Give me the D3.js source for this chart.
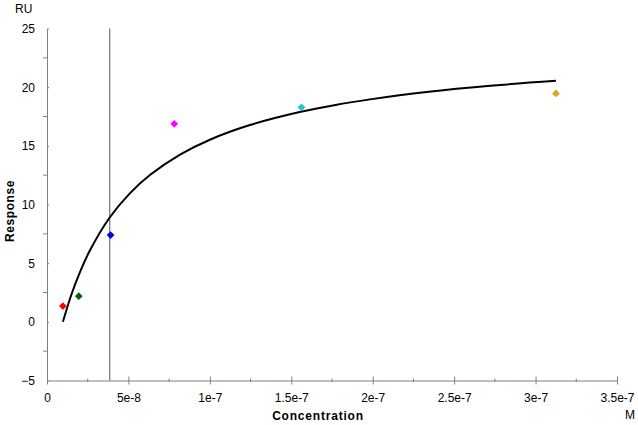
<!DOCTYPE html>
<meta charset="utf-8">
<html>
    <head>
        <script src="https://d3js.org/d3.v7.min.js"></script>
    </head>
    <style>
        body { margin: 0; background: #fff; }
        text { font-family: "Liberation Sans", Arial, sans-serif; }
    </style>
    <body>
        <div id="chart"></div>
        <script>

            // measured points (concentration in M, response in RU)
            var concentrations = [9.77e-9, 1.953e-8, 3.906e-8, 7.813e-8, 1.5625e-7, 3.125e-7];
            var responses = [1.34, 2.19, 7.39, 16.88, 18.28, 19.47];
            var pointColors = ["#ff0000", "#006400", "#0000ff", "#ff00ff", "#1fc8c8", "#daa520"];

            // fitted curve
            var fitConc = [9.77e-9, 1.5e-8, 2.03e-8, 2.64e-8, 3.85e-8, 5.1e-8, 6.32e-8, 8.17e-8, 1.0e-7,
                           1.246e-7, 1.558e-7, 1.779e-7, 1.983e-7, 2.331e-7, 2.74e-7, 3.125e-7];
            var fitResp = [0.0, 2.33, 4.26, 6.1, 8.89, 10.97, 12.51, 14.25, 15.52,
                           16.77, 17.9, 18.51, 18.96, 19.59, 20.14, 20.54];

            var kdLine = 3.85e-8;

            var xTicks = [0, 5e-8, 1e-7, 1.5e-7, 2e-7, 2.5e-7, 3e-7, 3.5e-7];
            var xTickLabels = ["0", "5e-8", "1e-7", "1.5e-7", "2e-7", "2.5e-7", "3e-7", "3.5e-7"];
            var yTicks = [-5, 0, 5, 10, 15, 20, 25];

            var width = 638, height = 425;
            var axisColor = "#808080";

            var x = d3.scaleLinear().domain([0, 3.5e-7]).range([47, 617]);
            var y = d3.scaleLinear().domain([-5, 25]).range([380.5, 28.5]);

            var svg = d3.select("#chart")
                .append("svg")
                .attr("width", width)
                .attr("height", height);

            // minor ticks
            var xMinor = d3.range(0, 7).map(i => (i + 0.5) * 5e-8);
            var yMinor = d3.range(0, 6).map(i => -5 + (i + 0.5) * 5);

            // y axis
            var yAxis = svg.append("g")
                .attr("transform", "translate(" + x(0) + ",0)")
                .call(d3.axisLeft(y).tickValues(yTicks).tickSize(8).tickSizeOuter(0).tickPadding(4))
                .call(g => g.select(".domain").attr("stroke", axisColor))
                .call(g => g.selectAll(".tick line").attr("stroke", axisColor).attr("x2", 2))
                .call(g => g.selectAll(".tick text").attr("fill", "#000").attr("font-size", 12)
                    .attr("font-family", "Liberation Sans, Arial, sans-serif"));
            yAxis.selectAll(".minor")
                .data(yMinor)
                .join("line")
                .attr("class", "minor")
                .attr("x1", -4).attr("x2", 0)
                .attr("y1", d => y(d)).attr("y2", d => y(d))
                .attr("stroke", axisColor);

            // x axis
            var xAxis = svg.append("g")
                .attr("transform", "translate(0," + y(-5) + ")")
                .call(d3.axisBottom(x).tickValues(xTicks).tickFormat((d, i) => xTickLabels[i])
                    .tickSize(4).tickSizeOuter(0).tickPadding(9))
                .call(g => g.select(".domain").attr("stroke", axisColor))
                .call(g => g.selectAll(".tick line").attr("stroke", axisColor).attr("y1", -4))
                .call(g => g.selectAll(".tick text").attr("fill", "#000").attr("font-size", 12)
                    .attr("font-family", "Liberation Sans, Arial, sans-serif"));
            xAxis.selectAll(".minor")
                .data(xMinor)
                .join("line")
                .attr("class", "minor")
                .attr("x1", d => x(d)).attr("x2", d => x(d))
                .attr("y1", -2).attr("y2", 1.5)
                .attr("stroke", axisColor);

            // vertical marker line
            svg.append("line")
                .attr("x1", x(kdLine)).attr("x2", x(kdLine))
                .attr("y1", y(25)).attr("y2", y(-5))
                .attr("stroke", "#707070")
                .attr("stroke-width", 1.2);

            // fitted curve
            var line = d3.line()
                .x((d, i) => x(fitConc[i]))
                .y((d, i) => y(fitResp[i]))
                .curve(d3.curveCatmullRom);

            svg.append("path")
                .datum(fitResp)
                .attr("d", line)
                .attr("fill", "none")
                .attr("stroke", "#000")
                .attr("stroke-width", 2);

            // points as diamonds
            svg.append("g")
                .selectAll("path")
                .data(responses)
                .join("path")
                .attr("transform", (d, i) => "translate(" + x(concentrations[i]) + "," + y(d) + ") rotate(45)")
                .attr("d", d3.symbol(d3.symbolSquare, 30))
                .attr("fill", (d, i) => pointColors[i]);

            // labels
            svg.append("text")
                .attr("x", 15).attr("y", 13)
                .attr("font-size", 12)
                .text("RU");

            svg.append("text")
                .attr("x", 625).attr("y", 419)
                .attr("font-size", 12)
                .text("M");

            svg.append("text")
                .attr("x", 318).attr("y", 420)
                .attr("text-anchor", "middle")
                .attr("font-size", 12)
                .attr("font-weight", "bold")
                .attr("letter-spacing", 0.8)
                .text("Concentration");

            svg.append("text")
                .attr("transform", "translate(14,211) rotate(-90)")
                .attr("text-anchor", "middle")
                .attr("font-size", 12)
                .attr("font-weight", "bold")
                .attr("letter-spacing", 0.6)
                .text("Response");

        </script>
    </body>
</html>
